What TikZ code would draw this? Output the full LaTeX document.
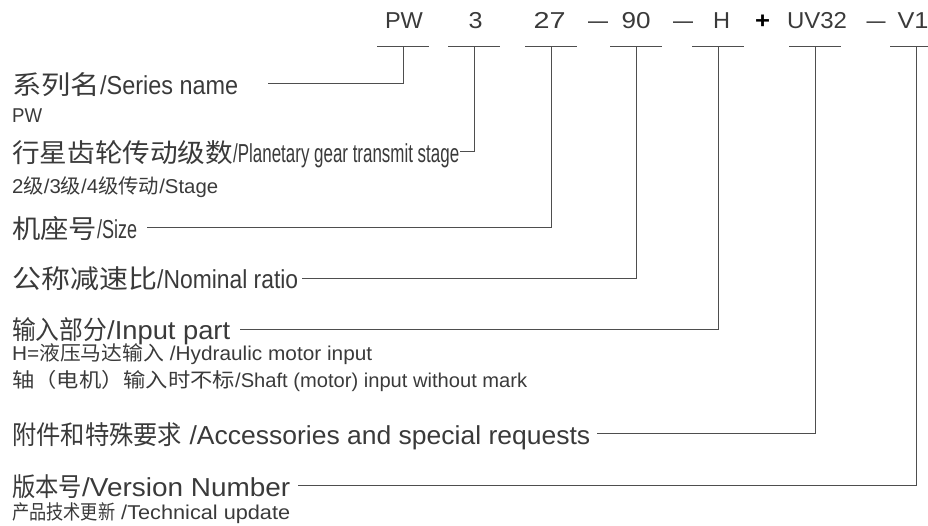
\documentclass[tikz,border=0pt]{standalone}
\usepackage{fontspec}
\usepackage{graphicx}
\setmainfont{Liberation Sans}
\newfontfamily\cn{Noto Sans CJK SC}
\definecolor{ink}{HTML}{3A3A3A}
\definecolor{rule}{HTML}{4E4E4E}
% stretch a piece of text horizontally to a given width (pt), keeping its height
\newcommand\fitw[2]{\resizebox{#1pt}{\height}{#2}}
\tikzset{
  big/.style={inner sep=0pt, anchor=base west, text=ink, font=\fontsize{26}{30}\selectfont},
  small/.style={inner sep=0pt, anchor=base west, text=ink, font=\fontsize{20}{24}\selectfont},
  code/.style={inner sep=0pt, anchor=base, text=ink, font=\fontsize{23}{27}\selectfont},
  conn/.style={draw=rule, line width=1pt},
}
\begin{document}
\begin{tikzpicture}[x=1pt, y=-1pt]
\useasboundingbox (0,0) rectangle (928,526);

% ---- type code ----
\node[code] (cPW)    at (404,28.5)   {\fitw{38}{PW}};
\node[code] (cStage) at (475.5,28.5) {\fitw{14}{3}};
\node[code] (cSize)  at (549.5,28.5) {\fitw{32}{27}};
\node[code] (d1)     at (598,28.5)   {\fitw{20}{—}};
\node[code] (cRatio) at (636,28.5)   {\fitw{29}{90}};
\node[code] (d2)     at (683,28.5)   {\fitw{20}{—}};
\node[code] (cInput) at (721.5,28.5) {\fitw{17}{H}};
\node[code, text=black] (plus) at (762.5,28.5) {\fitw{15}{\bfseries +}};
\node[code] (cAcc)   at (817,28.5)   {\fitw{60}{UV32}};
\node[code] (d3)     at (876,28.5)   {\fitw{19}{—}};
\node[code] (cVer)   at (913,28.5)   {\fitw{31}{V1}};

% ---- tick points under each code field ----
\coordinate (tPW)    at (403,47);
\coordinate (tStage) at (474,47);
\coordinate (tSize)  at (551,47);
\coordinate (tRatio) at (636,47);
\coordinate (tInput) at (718,47);
\coordinate (tAcc)   at (815,47);
\coordinate (tVer)   at (916,47);

\foreach \t in {tPW,tStage,tSize,tRatio,tInput,tAcc,tVer}
  \draw[conn] ([xshift=-26pt]\t) -- ([xshift=26pt]\t);

% ---- descriptions ----
\node[big] (lSeries) at (12,95)  {\fitw{88}{\cn 系列名}\fitw{138}{/Series name}};
\node[small] (nSeries) at (12,123) {\fitw{30}{PW}};

\node[big] (lStage) at (12,163) {\fitw{221}{\cn 行星齿轮传动级数}\fitw{226}{/Planetary gear transmit stage}};
\node[small] (nStage) at (12,194) {\fitw{206}{2{\cn 级}/3{\cn 级}/4{\cn 级传动}/Stage}};

\node[big] (lSize) at (12,239) {\fitw{85}{\cn 机座号}\fitw{40}{/Size}};

\node[big] (lRatio) at (12,289) {\fitw{145}{\cn 公称减速比}\fitw{141}{/Nominal ratio}};

\node[big] (lInput) at (12,339) {\fitw{95}{\cn 输入部分}\fitw{123}{/Input part}};
\node[small] (nInputA) at (12,360) {\fitw{360}{H={\cn 液压马达输入} /Hydraulic motor input}};
\node[small] (nInputB) at (12,387) {\fitw{223}{\cn 轴（电机）输入时不标}\fitw{292}{/Shaft (motor) input without mark}};

\node[big] (lAcc) at (12,444) {\fitw{170}{\cn 附件和特殊要求}\fitw{408}{\ /Accessories and special requests}};

\node[big] (lVer) at (12,496) {\fitw{70}{\cn 版本号}\fitw{208}{/Version Number}};
\node[small] (nVer) at (12,519) {\fitw{103}{\cn 产品技术更新}\fitw{175}{\ /Technical update}};

% ---- leader lines from each description to its code field ----
\coordinate (sSeries) at (268,84);
\coordinate (sStage)  at (460,152);
\coordinate (sSize)   at (147,228);
\coordinate (sRatio)  at (302,279);
\coordinate (sInput)  at (240,329);
\coordinate (sAcc)    at (597,433);
\coordinate (sVer)    at (298,485);

\draw[conn] (sSeries) -| (tPW);
\draw[conn] (sStage)  -| (tStage);
\draw[conn] (sSize)   -| (tSize);
\draw[conn] (sRatio)  -| (tRatio);
\draw[conn] (sInput)  -| (tInput);
\draw[conn] (sAcc)    -| (tAcc);
\draw[conn] (sVer)    -| (tVer);
\end{tikzpicture}
\end{document}
